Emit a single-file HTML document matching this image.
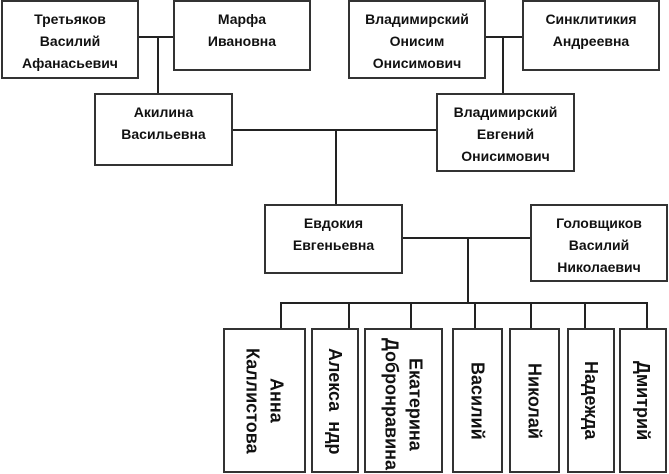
<!DOCTYPE html>
<html><head><meta charset="utf-8"><style>
body{margin:0;width:669px;height:474px;background:#fff;position:relative;overflow:hidden;font-family:"Liberation Sans",sans-serif;font-weight:bold;color:#111}
.b{position:absolute;box-sizing:border-box;border:2px solid #333;background:#fff;text-align:center;font-size:14px;line-height:22px;padding-top:6px}
.l{position:absolute;background:#222}
.c{position:absolute;box-sizing:border-box;border:2px solid #333;background:#fff;display:flex;align-items:center;justify-content:center;font-size:18px;line-height:24px}
.c span{writing-mode:vertical-rl;text-align:center}
</style></head><body>
<div class="l" style="left:138px;top:36px;width:35px;height:1.5px"></div>
<div class="l" style="left:157px;top:36px;width:1.5px;height:57px"></div>
<div class="l" style="left:485px;top:36px;width:37px;height:1.5px"></div>
<div class="l" style="left:502px;top:36px;width:1.5px;height:57px"></div>
<div class="l" style="left:232px;top:129px;width:204px;height:1.5px"></div>
<div class="l" style="left:335px;top:129px;width:1.5px;height:75px"></div>
<div class="l" style="left:402px;top:237px;width:128px;height:1.5px"></div>
<div class="l" style="left:467px;top:237px;width:1.5px;height:66px"></div>
<div class="l" style="left:280px;top:302px;width:368px;height:1.5px"></div>
<div class="l" style="left:280px;top:302px;width:1.5px;height:26px"></div>
<div class="l" style="left:348px;top:302px;width:1.5px;height:26px"></div>
<div class="l" style="left:410px;top:302px;width:1.5px;height:26px"></div>
<div class="l" style="left:474px;top:302px;width:1.5px;height:26px"></div>
<div class="l" style="left:530px;top:302px;width:1.5px;height:26px"></div>
<div class="l" style="left:584px;top:302px;width:1.5px;height:26px"></div>
<div class="l" style="left:646px;top:302px;width:1.5px;height:26px"></div>

<div class="b" style="left:1px;top:0;width:138px;height:79px">Третьяков<br>Василий<br>Афанасьевич</div>
<div class="b" style="left:173px;top:0;width:138px;height:71px">Марфа<br>Ивановна</div>
<div class="b" style="left:348px;top:0;width:138px;height:79px">Владимирский<br>Онисим<br>Онисимович</div>
<div class="b" style="left:522px;top:0;width:138px;height:71px">Синклитикия<br>Андреевна</div>
<div class="b" style="left:94px;top:93px;width:139px;height:73px">Акилина<br>Васильевна</div>
<div class="b" style="left:436px;top:93px;width:139px;height:79px">Владимирский<br>Евгений<br>Онисимович</div>
<div class="b" style="left:264px;top:204px;width:139px;height:70px">Евдокия<br>Евгеньевна</div>
<div class="b" style="left:530px;top:204px;width:138px;height:78px">Головщиков<br>Василий<br>Николаевич</div>

<div class="c" style="left:223px;top:328px;width:83px;height:145px"><span>Анна<br>Каллистова</span></div>
<div class="c" style="left:311px;top:328px;width:48px;height:145px;align-items:flex-start;padding-top:18px"><span>Алекса&nbsp; ндр</span></div>
<div class="c" style="left:364px;top:328px;width:79px;height:145px;align-items:flex-start;padding-top:8px"><span>Екатерина<br>Добронравина</span></div>
<div class="c" style="left:452px;top:328px;width:51px;height:145px"><span>Василий</span></div>
<div class="c" style="left:509px;top:328px;width:51px;height:145px"><span>Николай</span></div>
<div class="c" style="left:567px;top:328px;width:48px;height:145px"><span>Надежда</span></div>
<div class="c" style="left:619px;top:328px;width:48px;height:145px"><span>Дмитрий</span></div>
</body></html>
